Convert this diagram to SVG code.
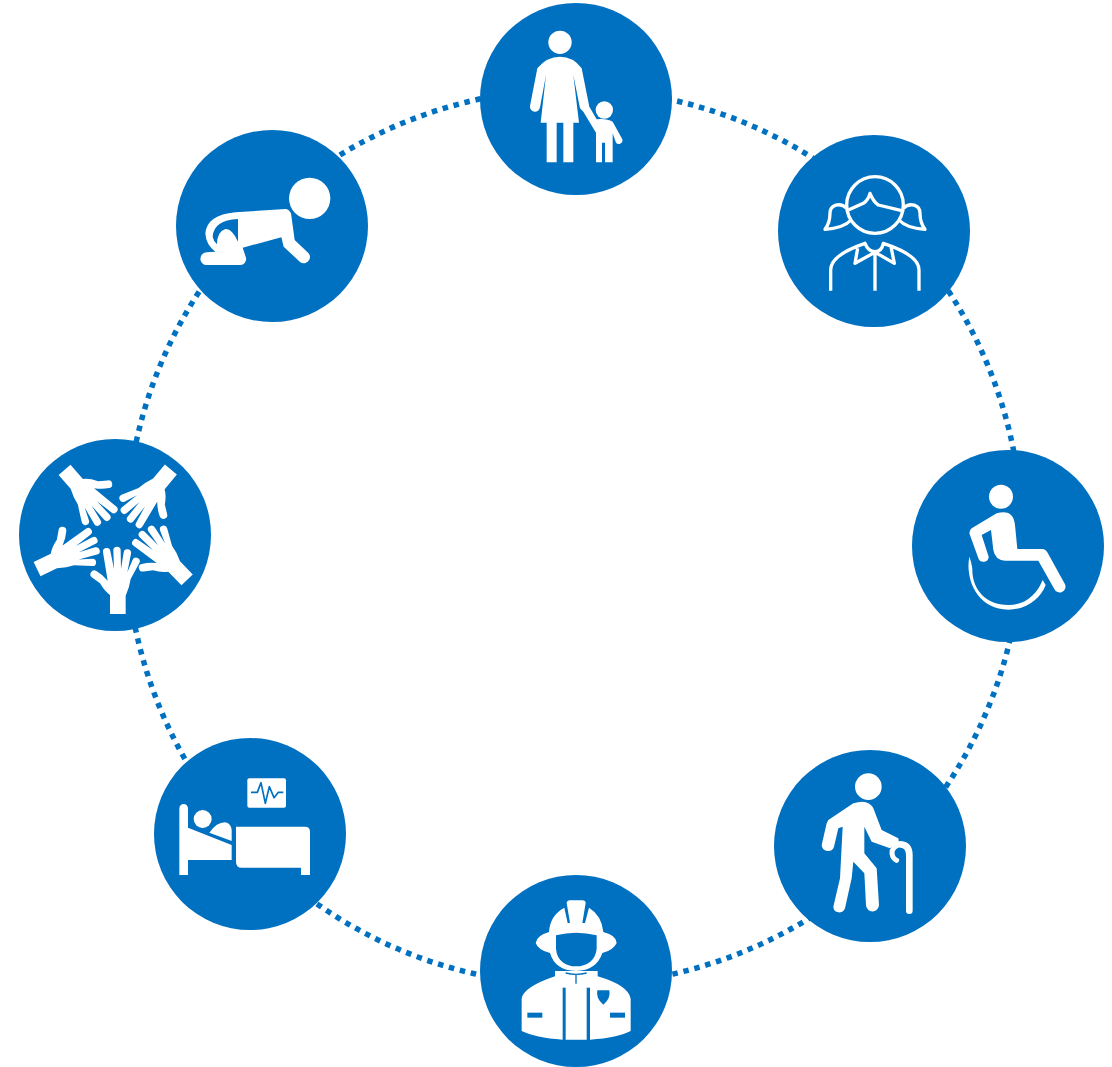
<svg xmlns="http://www.w3.org/2000/svg" width="1112" height="1067" viewBox="0 0 1112 1067">
<defs>
<style>
.disc{fill:#0070c0}
.w{fill:#fff}
.b{fill:#0070c0}
.ln{fill:none;stroke:#fff;stroke-width:10;stroke-linecap:butt;stroke-linejoin:round}
.ring{fill:none;stroke:#0070c0;stroke-width:5.5;stroke-dasharray:5.5 5.8}
</style>
<path id="hand" d="M285 537L285 480Q268 468 255 445L232 428A11 11 0 0 1 244 408Q262 418 278 437L264 352A11 11 0 0 1 286 348L297 402L295 346A11 11 0 0 1 317 346L318 402L326 352A11 11 0 0 1 348 356L337 412L353 374A11 11 0 0 1 373 384L347 432Q344 455 332 482L332 537Z" fill="#fff"/>
</defs>
<rect width="1112" height="1067" fill="#fff"/>
<g id="connectors"><circle class="ring" cx="574" cy="537" r="448"/></g>
<g id="mother">
<circle class="disc" cx="576" cy="99" r="96"/>
<g transform="translate(480 0) scale(.33333)">
<circle class="w" cx="240" cy="127" r="35"/><circle class="w" cx="373" cy="330" r="26"/>
<path class="w" d="M172 205Q200 170 240 170Q280 170 305 205L328 320L350 358Q380 355 398 365L427 418A11 11 0 0 1 408 428L398 400L398 487L375 487L375 428L366 428L366 487L348 487L348 398L310 335L300 325L280 225L297 368L280 368L280 487L250 487L250 368L230 368L230 487L200 487L200 368L182 368L198 225L180 322A15 15 0 0 1 150 318Z"/>
</g></g>
<g id="girl">
<circle class="disc" cx="874" cy="231" r="96"/>
<g transform="translate(775 130) scale(.33333)">
<circle class="ln" cx="300" cy="225" r="85"/>
<path class="ln" d="M220 240L265 220Q280 210 285 190Q295 215 310 225L380 242M215 235C195 215 165 225 165 250C165 270 160 285 150 298C180 296 210 290 228 270M385 235C405 215 435 225 435 250C435 270 440 285 450 298C420 296 390 290 372 270"/>
<path class="ln" d="M167 482L167 420Q167 375 270 340Q280 365 300 365Q320 365 325 340Q432 375 432 420L432 482M248 355L240 400L298 368M348 350L358 400L302 368M300 368L300 482"/>
</g></g>
<g id="wheelchair">
<circle class="disc" cx="1008" cy="546" r="96"/>
<g transform="translate(910 445) scale(.33333)">
<circle class="w" cx="273" cy="155" r="36"/>
<path class="w" d="M185 250L260 205Q310 190 315 240L322 312L400 312Q408 314 412 322L465 418A17 17 0 0 1 433 432L385 347L285 347Q255 345 250 315L243 255L215 270L236 335A16 16 0 0 1 205 340L178 265Q178 255 185 250Z"/>
<path class="w" d="M178 335C165 400 200 493 295 494C350 494 392 460 407 420L398 405C380 450 345 480 295 480C225 480 185 430 187 370Q184 350 178 335Z"/>
</g></g>
<g id="elder">
<circle class="disc" cx="870" cy="846" r="96"/>
<g transform="translate(770 745) scale(.33333)">
<circle class="w" cx="295" cy="125" r="40"/>
<path class="w" d="M175 225L250 175Q295 160 310 190L335 255L385 280L387 295L360 310L305 290L283 245L283 325L320 370L327 480A19 19 0 0 1 288 480L283 385L250 350L245 400L225 490A18 18 0 0 1 190 485L210 400L218 245L205 250L192 305A19 19 0 0 1 155 300L170 235Z"/>
<path fill="none" stroke="#fff" stroke-width="20" stroke-linecap="round" d="M418 497L418 330Q418 300 392 298"/>
<path fill="none" stroke="#fff" stroke-width="15" stroke-linecap="round" d="M392 298Q365 305 366 325Q368 342 380 346"/>
</g></g>
<g id="firefighter">
<circle class="disc" cx="576" cy="971" r="96"/>
<g transform="translate(475 867) scale(.33333)">
<path class="w" d="M222 195Q225 145 268 122L278 168L285 168L275 108Q276 100 285 100L322 100Q332 100 332 108L322 168L330 168L342 122Q380 145 385 195Q425 205 425 228Q415 250 382 258Q365 310 303 312Q240 310 225 258Q190 250 182 228Q185 205 222 195Z"/>
<path class="b" d="M243 205Q303 190 365 205L365 245C362 280 335 298 303 298C272 298 245 280 243 245Z"/>
<path class="w" d="M140 492L140 395Q145 360 240 328L240 312L368 312L368 328Q460 355 467 395L467 492Q430 512 345 518L263 518Q180 512 140 492Z"/>
<path fill="none" stroke="#0070c0" stroke-width="4" d="M272 318Q303 326 335 318M303 323L303 350"/>
<rect class="b" x="263" y="362" width="9" height="160"/><rect class="b" x="335" y="362" width="10" height="160"/>
<rect class="b" x="157" y="437" width="45" height="15"/><rect class="b" x="405" y="437" width="45" height="15"/>
<path class="b" d="M367 370L403 370Q408 395 385 413Q362 395 367 370Z"/>
</g></g>
<g id="bed">
<circle class="disc" cx="250" cy="834" r="96"/>
<g transform="translate(150 735) scale(.33333)">
<rect class="w" x="292" y="130" width="116" height="88" rx="6"/>
<path fill="none" stroke="#0070c0" stroke-width="5" stroke-linejoin="round" d="M303 172L322 172L333 143L346 205L358 155L372 188L385 172L400 172"/>
<circle class="w" cx="158" cy="252" r="27"/>
<path class="w" d="M88 420L88 220A13 13 0 0 1 114 220L114 278L245 330L245 375L114 375L114 420Z"/>
<path class="w" d="M178 293Q200 262 225 262Q243 265 245 285L245 318Z"/>
<path class="w" d="M258 275L465 275Q480 275 480 290L480 420L453 420L453 398L275 398Q258 398 258 380Z"/>
</g></g>
<g id="hands">
<circle class="disc" cx="115" cy="535" r="96"/>
<g transform="translate(15 435) scale(.33333)">
<use href="#hand"/>
<use href="#hand" transform="translate(-242 -135) rotate(64 308 537)"/>
<use href="#hand" transform="translate(-159 -433) rotate(139 308 537)"/>
<use href="#hand" transform="translate(160 -433) rotate(220 308 537)"/>
<use href="#hand" transform="translate(208 -102) rotate(316 308 537)"/>
</g></g>
<g id="baby">
<circle class="disc" cx="272" cy="226" r="96"/>
<g transform="translate(172 125) scale(.33333)">
<circle class="w" cx="413" cy="220" r="62"/>
<path class="w" d="M340 252L190 262Q105 270 100 325Q102 360 130 380L104 382A19 19 0 0 0 104 420L205 420A18 18 0 0 0 222 398L212 368L328 337L335 365L385 412A17 17 0 0 0 405 380L368 345L357 265Q350 252 340 252Z"/>
<path class="b" d="M198 282Q125 285 122 335Q125 350 135 358Q135 320 160 312Q180 310 198 350Z"/>
</g></g>
</svg>
